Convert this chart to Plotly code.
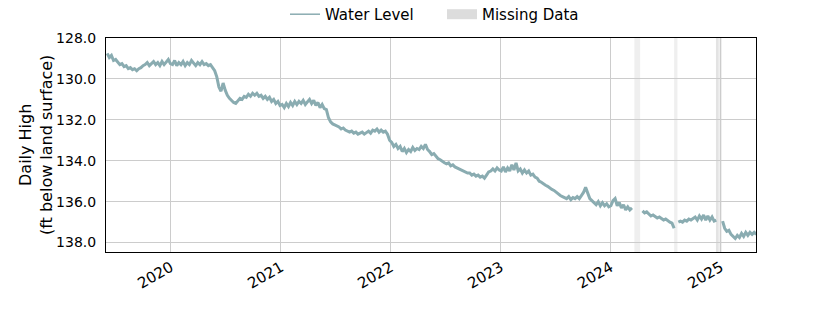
import pandas as pd
import plotly.graph_objects as go

# Weekly readings of daily-high water level (ft below land surface), first week 2019-06-04
start_date = "2019-06-04"
values_2019 = [128.75, 128.95, 128.85, 129.1, 129.05, 129.2, 129.3, 129.25, 129.4, 129.35,
               129.5, 129.45, 129.55, 129.5, 129.6, 129.5, 129.45, 129.35, 129.3, 129.2,
               129.35, 129.25, 129.15, 129.3, 129.2, 129.35, 129.15, 129.3, 129.2, 129.05, 129.25]
values_2020 = [129.3, 129.1, 129.35, 129.2, 129.3, 129.15, 129.35, 129.2, 129.3, 129.1,
               129.25, 129.35, 129.2, 129.3, 129.15, 129.3, 129.25, 129.35, 129.3, 129.45,
               129.6, 129.9, 130.4, 130.6, 130.2, 130.55, 130.8, 130.95, 131.05, 131.15,
               131.2, 131.05, 130.95, 131.0, 130.85, 130.9, 130.75, 130.85, 130.7, 130.8,
               130.7, 130.85, 130.8, 130.95, 130.85, 131.0, 130.9, 131.1, 131.0, 131.2,
               131.1, 131.3]
values_2021 = [131.25, 131.4, 131.2, 131.35, 131.15, 131.3, 131.1, 131.25, 131.1, 131.2,
               131.05, 131.25, 131.1, 131.0, 131.2, 131.05, 131.3, 131.15, 131.4, 131.25,
               131.45, 131.5, 131.9, 132.1, 132.2, 132.25, 132.3, 132.35, 132.45, 132.4,
               132.5, 132.55, 132.6, 132.55, 132.65, 132.6, 132.7, 132.65, 132.6, 132.7,
               132.6, 132.55, 132.65, 132.5, 132.55, 132.45, 132.6, 132.5, 132.6, 132.55,
               132.7, 133.0]
values_2022 = [133.1, 133.3, 133.2, 133.4, 133.3, 133.55, 133.4, 133.6, 133.45, 133.55,
               133.35, 133.5, 133.4, 133.45, 133.3, 133.4, 133.2, 133.45, 133.55, 133.7,
               133.65, 133.8, 133.9, 133.95, 134.05, 134.1, 134.15, 134.1, 134.25, 134.2,
               134.3, 134.35, 134.4, 134.45, 134.5, 134.55, 134.6, 134.6, 134.7, 134.65,
               134.75, 134.7, 134.8, 134.75, 134.85, 134.7, 134.55, 134.5, 134.4, 134.5,
               134.35, 134.45]
values_2023 = [134.5, 134.3, 134.55, 134.35, 134.5, 134.2, 134.45, 134.1, 134.5, 134.4,
               134.6, 134.45, 134.6, 134.5, 134.7, 134.65, 134.8, 134.85, 135.0, 135.05,
               135.15, 135.2, 135.25, 135.35, 135.4, 135.45, 135.55, 135.6, 135.7, 135.75,
               135.8, 135.85, 135.75, 135.9, 135.8, 135.85, 135.75, 135.85, 135.7, 135.55,
               135.3, 135.6, 135.85, 135.95, 136.05, 136.15, 136.0, 136.2, 136.05, 136.2,
               136.1, 136.25]
values_2024 = [136.2, 135.95, 135.85, 136.2, 136.05, 136.3, 136.15, 136.4, 136.25, 136.4,
               136.3, None, None, None, None, 136.45, 136.55, 136.5, 136.6, 136.7,
               136.65, 136.75, 136.8, 136.75, 136.85, 136.9, 136.85, 136.95, 137.0, 137.05,
               137.3, None, 137.0, 136.95, 137.0, 136.9, 136.95, 136.85, 136.9, 136.8,
               136.75, 136.9, 136.7, 136.85, 136.65, 136.9, 136.7, 136.9, 136.75, 136.95,
               136.9, None, None]
values_2025 = [136.95, 137.3, 137.45, 137.4, 137.6, 137.7, 137.8, 137.65, 137.75, 137.55,
               137.7, 137.5, 137.65, 137.5, 137.6, 137.5, 137.6]

water_level = values_2019 + values_2020 + values_2021 + values_2022 + values_2023 + values_2024 + values_2025
dates = pd.date_range(start_date, periods=len(water_level), freq="7D")

missing_starts = ["2024-03-20", "2024-07-30", "2024-12-16", "2024-12-16"]
missing_ends = ["2024-04-08", "2024-08-10", "2025-01-05", "2024-12-24"]

y_ticks = [128.0, 130.0, 132.0, 134.0, 136.0, 138.0]
x_ticks = ["2020-01-01", "2021-01-01", "2022-01-01", "2023-01-01", "2024-01-01", "2025-01-01"]
x_tick_labels = ["2020", "2021", "2022", "2023", "2024", "2025"]

FONT = "DejaVu Sans"
LINE_COLOR = "#8aacb1"
PLOT_W = 840 - 106 - 84

fig = go.Figure()
fig.add_trace(go.Scatter(x=dates, y=water_level, mode="lines", name="Water Level",
                         line=dict(color=LINE_COLOR, width=3), connectgaps=False,
                         showlegend=False))
fig.add_trace(go.Scatter(x=[None], y=[None], mode="lines", name="Water Level",
                         line=dict(color=LINE_COLOR, width=1.5)))
fig.add_trace(go.Scatter(x=[None], y=[None], mode="lines", name="Missing Data",
                         line=dict(color="#dcdcdc", width=10)))

for s, e in zip(missing_starts, missing_ends):
    fig.add_shape(type="rect", xref="x", yref="paper", x0=s, x1=e, y0=0, y1=1,
                  fillcolor="rgba(190,190,190,0.25)", line=dict(width=0), layer="below")

fig.add_annotation(text="Daily High<br>(ft below land surface)", textangle=-90,
                   xref="paper", yref="paper", x=-(106 - 36) / PLOT_W, y=0.5,
                   xanchor="center", yanchor="middle", showarrow=False,
                   font=dict(size=16, family=FONT, color="black"))

fig.update_layout(
    width=840, height=315,
    margin=dict(l=106, r=84, t=38, b=63, autoexpand=False),
    paper_bgcolor="white", plot_bgcolor="white",
    font=dict(family=FONT, size=14, color="black"),
    showlegend=True,
    legend=dict(orientation="h", x=0.5 + 11 / PLOT_W, xanchor="center", y=1.11, yanchor="middle",
                font=dict(size=15), bgcolor="rgba(0,0,0,0)", itemwidth=30,
                entrywidth=112),
)
fig.update_xaxes(
    type="date", range=["2019-05-31", "2025-04-28"],
    tickvals=x_ticks, ticktext=x_tick_labels, tickangle=-30,
    showgrid=True, gridcolor="#cccccc", gridwidth=1,
    showline=True, linecolor="black", linewidth=1, mirror=True,
    ticks="", tickfont=dict(size=15), zeroline=False,
)
fig.update_yaxes(
    range=[138.46, 128.0],
    tickvals=y_ticks, ticktext=[f"{v:.1f}" for v in y_ticks],
    showgrid=True, gridcolor="#cccccc", gridwidth=1,
    showline=True, linecolor="black", linewidth=1, mirror=True,
    ticks="", ticklabelstandoff=6, tickfont=dict(size=14), zeroline=False,
)

fig.write_html("out.html")
